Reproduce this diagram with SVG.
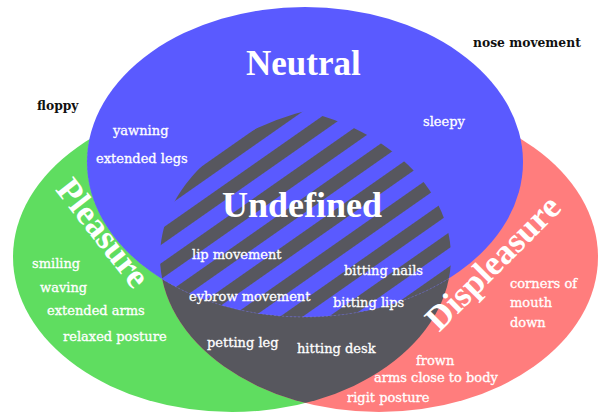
<svg xmlns="http://www.w3.org/2000/svg" width="609" height="417" viewBox="0 0 609 417">
<style>
.title{font-family:"Liberation Serif","Times New Roman",serif;font-weight:bold;fill:#ffffff;font-size:35px}
.lbl{font-family:"DejaVu Serif","Liberation Serif",serif;fill:#ffffff;stroke:#ffffff;stroke-width:0.3px;font-size:13px}
.blk{font-family:"DejaVu Serif","Liberation Serif",serif;font-weight:bold;fill:#111111;font-size:12.3px}
</style>
<defs>
<clipPath id="clipG"><ellipse cx="232" cy="257" rx="219" ry="155"/></clipPath>
<clipPath id="clipB"><ellipse cx="305" cy="162" rx="218" ry="155"/></clipPath>
<pattern id="stripes" patternUnits="userSpaceOnUse" width="28" height="28" patternTransform="rotate(-35)">
<rect width="28" height="28" fill="#5a5aff"/>
<rect width="28" height="13" fill="#57575e"/>
</pattern>
</defs>
<rect width="609" height="417" fill="#ffffff"/>
<g id="pleasure">
<ellipse cx="232" cy="257" rx="219" ry="155" fill="#5fdd60"/>
</g>
<g id="displeasure">
<ellipse cx="379" cy="257" rx="219" ry="155" fill="#ff7d7d"/>
</g>
<g id="overlap" clip-path="url(#clipG)">
<ellipse cx="379" cy="257" rx="219" ry="155" fill="#57575e"/>
</g>
<g id="neutral">
<ellipse cx="305" cy="162" rx="218" ry="155" fill="#5a5aff"/>
</g>
<g id="undefined">
<g clip-path="url(#clipG)"><g clip-path="url(#clipB)">
<ellipse cx="379" cy="257" rx="219" ry="155" fill="url(#stripes)"/>
</g></g>
<g clip-path="url(#clipG)">
<ellipse cx="305" cy="162" rx="218" ry="155" fill="none" stroke="#8a8ad8" stroke-width="0.7" stroke-dasharray="2 2" opacity="0.6"/>
</g>
</g>
<g id="labels">
<text class="title" x="246" y="75">Neutral</text>
<text class="title" x="222" y="217" style="font-size:36px">Undefined</text>
<text class="title" transform="translate(94,240) rotate(52)" text-anchor="middle">Pleasure</text>
<text class="title" transform="translate(501,271) rotate(-45)" text-anchor="middle">Displeasure</text>
<text class="blk" x="473" y="47">nose movement</text>
<text class="blk" x="37" y="110">floppy</text>
<text class="lbl" x="113" y="135">yawning</text>
<text class="lbl" x="96" y="163">extended legs</text>
<text class="lbl" x="423" y="126">sleepy</text>
<text class="lbl" x="192" y="259">lip movement</text>
<text class="lbl" x="344" y="275">bitting nails</text>
<text class="lbl" x="189" y="301">eybrow movement</text>
<text class="lbl" x="333" y="307">bitting lips</text>
<text class="lbl" x="207" y="347">petting leg</text>
<text class="lbl" x="297" y="353">hitting desk</text>
<text class="lbl" x="32" y="268">smiling</text>
<text class="lbl" x="40" y="292">waving</text>
<text class="lbl" x="47" y="315">extended arms</text>
<text class="lbl" x="63" y="341">relaxed posture</text>
<text class="lbl" x="510" y="288">corners of</text>
<text class="lbl" x="510" y="307">mouth</text>
<text class="lbl" x="510" y="327">down</text>
<text class="lbl" x="416" y="365">frown</text>
<text class="lbl" x="374" y="382">arms close to body</text>
<text class="lbl" x="347" y="402">rigit posture</text>
</g>
</svg>
